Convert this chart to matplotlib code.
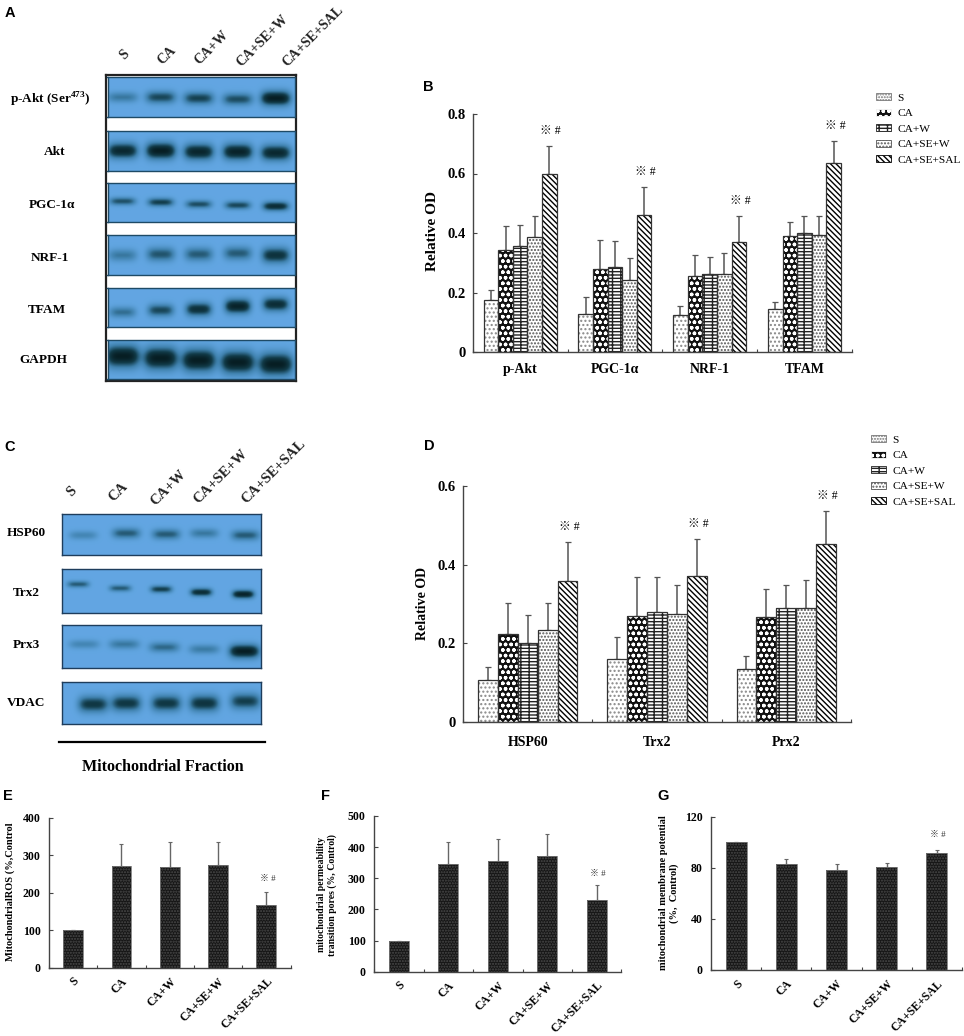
#!/usr/bin/env python3
import numpy as np
import matplotlib
matplotlib.use('Agg')
import matplotlib.pyplot as plt
from matplotlib.colors import LinearSegmentedColormap
from matplotlib.patches import Patch
from matplotlib.transforms import ScaledTranslation

W, H = 964, 1036
SERIF = ['Liberation Serif', 'Noto Sans CJK SC', 'DejaVu Sans']

plt.rcParams['font.family'] = SERIF
plt.rcParams['font.weight'] = 'bold'
plt.rcParams['hatch.linewidth'] = 1.0
plt.rcParams['mathtext.fontset'] = 'custom'
plt.rcParams['mathtext.bf'] = 'Liberation Serif:bold'
plt.rcParams['mathtext.rm'] = 'Liberation Serif:bold'

groups = ['S', 'CA', 'CA+W', 'CA+SE+W', 'CA+SE+SAL']

# Panel B, one row per protein, upper ends of the error bars in the *_top lists
b_labels = ['p-Akt', 'PGC-1α', 'NRF-1', 'TFAM']
b_values = [[0.176, 0.342, 0.356, 0.388, 0.597],
            [0.129, 0.280, 0.287, 0.241, 0.462],
            [0.124, 0.257, 0.262, 0.263, 0.370],
            [0.145, 0.390, 0.401, 0.394, 0.636]]
b_top = [[0.207, 0.422, 0.427, 0.458, 0.692],
         [0.185, 0.376, 0.372, 0.316, 0.555],
         [0.156, 0.325, 0.319, 0.334, 0.456],
         [0.169, 0.436, 0.456, 0.458, 0.710]]

# Panel D
d_labels = ['HSP60', 'Trx2', 'Prx2']
d_values = [[0.106, 0.224, 0.201, 0.233, 0.359],
            [0.160, 0.269, 0.279, 0.275, 0.371],
            [0.136, 0.267, 0.289, 0.291, 0.452]]
d_top = [[0.139, 0.302, 0.271, 0.302, 0.457],
         [0.215, 0.368, 0.368, 0.349, 0.464],
         [0.169, 0.337, 0.349, 0.361, 0.537]]

# Panels E, F, G
e_values = [100, 271, 268, 275, 166]
e_top = [100, 329, 336, 335, 201]
f_values = [100, 347, 355, 373, 231]
f_top = [100, 416, 427, 443, 280]
g_values = [100, 83, 78.5, 80.3, 91.3]
g_top = [100, 86.8, 82.7, 83.7, 93.6]

# Blot band darkness, one row per antibody, one column per group
a_rows = ['p-Akt (Ser$^{473}$)', 'Akt', 'PGC-1α', 'NRF-1', 'TFAM', 'GAPDH']
a_bands = [[0.40, 0.65, 0.68, 0.62, 1.00],
           [0.90, 1.00, 0.92, 0.95, 0.90],
           [0.60, 0.70, 0.62, 0.65, 0.85],
           [0.40, 0.58, 0.55, 0.55, 0.80],
           [0.45, 0.65, 0.82, 0.95, 0.85],
           [1.00, 1.00, 1.00, 1.00, 1.00]]
c_rows = ['HSP60', 'Trx2', 'Prx3', 'VDAC']
c_bands = [[0.30, 0.55, 0.55, 0.40, 0.55],
           [0.55, 0.55, 0.70, 0.85, 0.95],
           [0.30, 0.40, 0.48, 0.38, 1.00],
           [0.75, 0.75, 0.75, 0.78, 0.70]]

BG = LinearSegmentedColormap.from_list('blot', ['#62a6e2', '#3f81ad', '#123c4a', '#05191d'])
STYLES = [('white', '#888888', '....'),
          ('#111111', 'white', 'ooo'),
          ('white', '#222222', '-----||'),
          ('white', '#555555', '.....'),
          ('white', 'black', '\\\\\\\\\\\\')]
LEGEND_STYLES = [('white', '#777777', '......'),
                 ('#111111', 'white', 'ooo'),
                 ('white', '#222222', '-----||'),
                 ('white', '#555555', '.....'),
                 ('white', 'black', '\\\\\\\\\\\\')]

fig = plt.figure(figsize=(W / 100, H / 100), dpi=100, facecolor='white')


def px_axes(left, right, top, bottom):
    return fig.add_axes([left / W, 1 - bottom / H, (right - left) / W, (bottom - top) / H])


def px_text(x, y, s, **kw):
    kw.setdefault('ha', 'center')
    kw.setdefault('va', 'center')
    return fig.text(x / W, 1 - y / H, s, **kw)


def draw_strip(box, strengths, centres, ys, half_w, half_h, edge):
    left, right, top, bottom = box
    ax = px_axes(left, right, top, bottom)
    xx, yy = np.meshgrid(np.arange(left, right, 0.5), np.arange(top, bottom, 0.5))
    img = np.zeros_like(xx)
    for s, cx, cy in zip(strengths, centres, ys):
        spread = half_h * (0.6 + 0.6 * s)
        img += s * np.exp(-((xx - cx) / half_w) ** 4 - ((yy - cy) / spread) ** 2)
    ax.imshow(img, cmap=BG, vmin=0, vmax=1.05, aspect='auto', extent=(left, right, bottom, top))
    ax.set_xticks([])
    ax.set_yticks([])
    for s in ax.spines.values():
        s.set_color(edge)
        s.set_linewidth(1.0)


def style_axes(ax, ymax, yticks, ylabels):
    ax.set_ylim(0, ymax)
    ax.set_yticks(yticks)
    ax.set_yticklabels(ylabels)
    ax.spines['top'].set_visible(False)
    ax.spines['right'].set_visible(False)
    for s in ['left', 'bottom']:
        ax.spines[s].set_color('#444444')
        ax.spines[s].set_linewidth(1.0)
    ax.tick_params(axis='y', direction='in', length=3, width=0.8, color='#444444', pad=5)


def grouped(ax, labels, values, tops, ymax, yticks, ylabels, offset):
    n = len(labels)
    width = 0.154
    for j in range(5):
        face, hatch_col, hatch = STYLES[j]
        x = np.arange(n) + (j - 2) * width
        vals = np.array([row[j] for row in values])
        up = np.array([row[j] for row in tops])
        ax.errorbar(x, vals, yerr=[np.zeros(n), up - vals], fmt='none', ecolor='#555555',
                    elinewidth=1.1, capsize=2, capthick=0.9, zorder=1)
        ax.bar(x, vals, width, facecolor=face, edgecolor=hatch_col, hatch=hatch, lw=0, zorder=2)
        ax.bar(x, vals, width, fill=False, edgecolor='#333333', lw=0.9, zorder=3)
    for i in range(n):
        ax.annotate('※ #', (i + 2 * width, tops[i][4]), xytext=(1, 6.5), textcoords='offset points',
                    ha='center', va='bottom', fontsize=8.5, fontweight='normal', family=SERIF)
    ax.set_xlim(-0.5, n - 0.5)
    ax.set_xticks(np.arange(n))
    ax.set_xticklabels(labels, fontsize=10)
    ax.set_xticks(np.arange(n + 1) - 0.5, minor=True)
    ax.tick_params(axis='x', which='major', length=0, pad=offset)
    ax.tick_params(axis='x', which='minor', direction='in', length=2.5, width=0.8, color='#444444')
    style_axes(ax, ymax, yticks, ylabels)
    ax.tick_params(axis='y', labelsize=10.5)


def single(ax, values, tops, ymax, yticks, note_gap, label_shift):
    n = len(values)
    x = np.arange(n)
    vals = np.array(values, dtype=float)
    up = np.array(tops, dtype=float)
    ax.errorbar(x, vals, yerr=[np.zeros(n), up - vals], fmt='none', ecolor='#666666',
                elinewidth=1.0, capsize=1.5, capthick=0.8, zorder=1)
    ax.bar(x, vals, 0.41, facecolor='#161616', edgecolor='#4a4a4a', hatch='......', lw=0, zorder=2)
    ax.bar(x, vals, 0.41, fill=False, edgecolor='#777777', lw=0.6, zorder=3)
    ax.annotate('※ #', (4, tops[4]), xytext=(1, note_gap), textcoords='offset points',
                ha='center', va='bottom', fontsize=6.5, fontweight='normal', family=SERIF,
                color='#333333')
    ax.set_xlim(-0.5, n - 0.5)
    ax.set_xticks(x)
    ax.set_xticklabels(groups, rotation=45, ha='right', rotation_mode='anchor', fontsize=8.5)
    shift = ScaledTranslation(label_shift / 100, 0, fig.dpi_scale_trans)
    for lab in ax.get_xticklabels():
        lab.set_transform(lab.get_transform() + shift)
    ax.set_xticks(np.arange(n + 1) - 0.5, minor=True)
    ax.tick_params(axis='x', which='major', length=0, pad=5.5)
    ax.tick_params(axis='x', which='minor', direction='in', length=2.5, width=0.8, color='#444444')
    style_axes(ax, ymax, yticks, [str(t) for t in yticks])
    ax.tick_params(axis='y', labelsize=8.5, pad=6)


# ---- blot A
frame = px_axes(106, 296, 75, 381)
frame.set_xticks([])
frame.set_yticks([])
for s in frame.spines.values():
    s.set_linewidth(1.6)
    s.set_color('#222222')

a_boxes = [(107.5, 294.5, 77, 117), (107.5, 294.5, 131, 171), (107.5, 294.5, 183, 222),
           (107.5, 294.5, 235, 275), (107.5, 294.5, 288, 327), (107.5, 294.5, 340, 379)]
a_x = [122, 160, 198, 237, 275]
a_y = [[97, 97, 98, 99, 98], [151, 151, 152, 152, 153], [201, 202, 204, 205, 206],
       [255, 254, 254, 253, 255], [312, 310, 309, 306, 304], [356, 358, 360, 362, 364]]
a_hw = [15, 15, 13, 14, 13, 17]
a_hh = [6, 6.5, 4, 7, 6, 9]
for k in range(6):
    draw_strip(a_boxes[k], a_bands[k], a_x, a_y[k], a_hw[k], a_hh[k], '#1e4a66')

a_label_x = [50, 55, 52, 50, 47, 43]
a_label_y = [100, 152, 205, 258, 310, 360]
for k in range(6):
    px_text(a_label_x[k], a_label_y[k], a_rows[k], fontsize=9.5)

a_top = [(125, 55), (167, 55), (212, 48), (263, 41), (313, 36)]
for name, (x, y) in zip(groups, a_top):
    px_text(x, y, name, rotation=45, fontsize=10, color='#222222')

# ---- blot C
c_boxes = [(62, 261, 514, 555), (62, 261, 569, 613), (62, 261, 625, 668), (62, 261, 682, 724)]
c_x = [[83, 126, 166, 204, 245], [78, 120, 161, 201, 243], [84, 124, 164, 204, 244], [93, 126, 166, 204, 245]]
c_y = [[535, 533, 534, 533, 535], [584, 588, 589, 592, 594], [644, 644, 647, 649, 651], [704, 703, 703, 703, 701]]
c_hw = [14, 11, 15, 15]
c_hh = [5.5, 3.5, 5.5, 7.5]
for k in range(4):
    draw_strip(c_boxes[k], c_bands[k], c_x[k], c_y[k], c_hw[k], c_hh[k], '#1e3d5c')

c_label_y = [533, 593, 645, 703]
for k in range(4):
    px_text(26, c_label_y[k], c_rows[k], fontsize=9.5)

c_top = [(72, 492), (118, 492), (168, 488), (221, 477), (274, 472)]
for name, (x, y) in zip(groups, c_top):
    px_text(x, y, name, rotation=45, fontsize=10.5, color='#222222')

fig.add_artist(plt.Line2D([59 / W, 265 / W], [1 - 741.7 / H, 1 - 741.7 / H], color='black', lw=1.6))
px_text(163, 767, 'Mitochondrial Fraction', fontsize=11.5)

# ---- bar panels
ax_b = px_axes(472.8, 851.8, 114, 352)
grouped(ax_b, b_labels, b_values, b_top, 0.8, [0, 0.2, 0.4, 0.6, 0.8], ['0', '0.2', '0.4', '0.6', '0.8'], 8)
px_text(433, 231, 'Relative OD', rotation=90, fontsize=11)

ax_d = px_axes(463, 851, 486, 722)
grouped(ax_d, d_labels, d_values, d_top, 0.6, [0, 0.2, 0.4, 0.6], ['0', '0.2', '0.4', '0.6'], 10)
px_text(422, 604, 'Relative OD', rotation=90, fontsize=10)

ax_e = px_axes(49, 290.5, 817.7, 967.7)
single(ax_e, e_values, e_top, 400, [0, 100, 200, 300, 400], 7, 8)
px_text(10, 892, 'MitochondrialROS (%,Control', rotation=90, fontsize=7.5)

ax_f = px_axes(374, 621.5, 816, 971.7)
single(ax_f, f_values, f_top, 500, [0, 100, 200, 300, 400, 500], 5, 2)
px_text(327, 895, 'mitochondrial permeability\ntransition pores (%, Control)', rotation=90,
        fontsize=7, linespacing=1.15)

ax_g = px_axes(711.3, 961.7, 816.7, 970)
single(ax_g, g_values, g_top, 120, [0, 40, 80, 120], 8, 1)
px_text(669, 893, 'mitochondrial membrane potential\n(%,  Control)', rotation=90,
        fontsize=7.5, linespacing=1.15)

# ---- legends
for anchor in [(876, 93), (871, 435)]:
    handles = [Patch(facecolor=f, edgecolor=e, hatch=h, lw=0.6) for f, e, h in LEGEND_STYLES]
    fig.legend(handles, groups, loc='upper left', bbox_to_anchor=(anchor[0] / W, 1 - anchor[1] / H),
               frameon=False, handlelength=1.3, handleheight=0.6,
               handletextpad=0.6, labelspacing=0.52, borderpad=0, borderaxespad=0,
               prop={'family': SERIF, 'size': 8.2, 'weight': 'normal'})

# ---- panel letters
letters = ['A', 'B', 'C', 'D', 'E', 'F', 'G']
letter_x = [10, 428, 10, 429, 8, 326, 663]
letter_y = [13, 87, 447, 446, 796, 796, 796]
for s, x, y in zip(letters, letter_x, letter_y):
    px_text(x, y, s, fontsize=10.5, family='Liberation Sans', fontweight='bold')

fig.savefig('out.png', dpi=100)
